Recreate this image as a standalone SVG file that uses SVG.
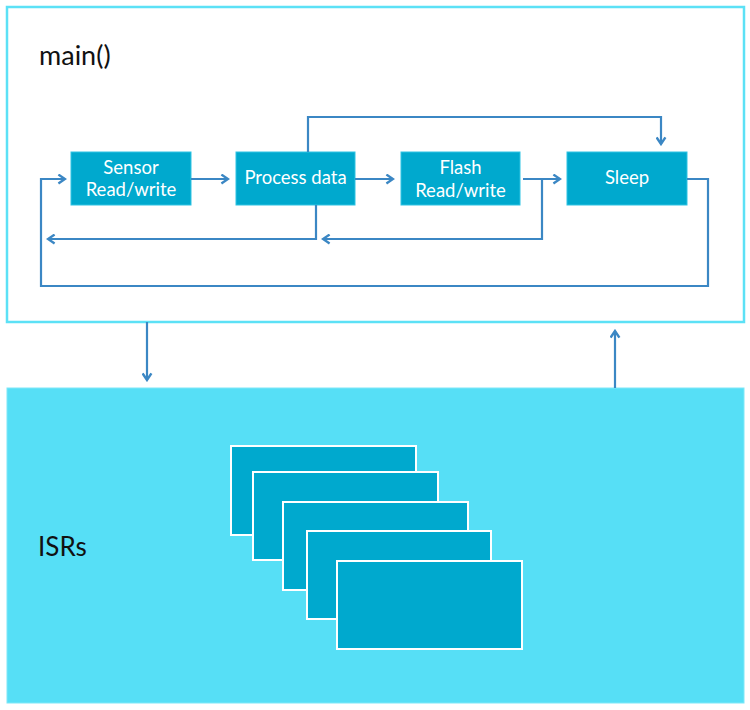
<svg xmlns="http://www.w3.org/2000/svg" width="750" height="710" viewBox="0 0 750 710">
<style>
.box{fill:#00a9ce;stroke:#2ec3e3;stroke-width:1}
.isr{fill:#00a9ce;stroke:#ffffff;stroke-width:2}
.lbl{font-family:Lato,"Liberation Sans",sans-serif;font-size:18.5px;fill:#ffffff;text-anchor:middle}
.title{font-family:Lato,"Liberation Sans",sans-serif;fill:#111111}
.conn{fill:none;stroke:#3b87c4;stroke-width:2.2}
</style>
<defs>
<marker id="arr" viewBox="0 0 10 10" refX="8" refY="5" markerWidth="11" markerHeight="11" markerUnits="userSpaceOnUse" orient="auto">
<path d="M2,1 L8,5 L2,9" fill="none" stroke="#3b87c4" stroke-width="2.2"/>
</marker>
</defs>
<rect width="750" height="710" fill="#ffffff"/>
<g id="main">
<rect x="7" y="7" width="737" height="315" fill="#ffffff" stroke="#5ce1f6" stroke-width="2.5"/>
<text class="title" x="39" y="65" font-size="27">main()</text>
</g>
<g id="isrs">
<rect x="7" y="388" width="737" height="315" fill="#56dff6" stroke="#7ee8f8" stroke-width="1"/>
<text class="title" x="38" y="556" font-size="26">ISRs</text>
<rect class="isr" x="231" y="446" width="185" height="89"/>
<rect class="isr" x="253" y="472" width="185" height="88"/>
<rect class="isr" x="283" y="502" width="185" height="88"/>
<rect class="isr" x="307" y="531" width="184" height="88"/>
<rect class="isr" x="337" y="561" width="185" height="88"/>
</g>
<g id="sensor">
<rect class="box" x="71" y="152" width="120" height="53"/>
<text class="lbl" x="131" y="173.5">Sensor</text>
<text class="lbl" x="131" y="196">Read/write</text>
</g>
<g id="process">
<rect class="box" x="236" y="152" width="119" height="53"/>
<text class="lbl" x="295.5" y="184">Process data</text>
</g>
<g id="flash">
<rect class="box" x="401" y="152" width="119" height="53"/>
<text class="lbl" x="460.5" y="174">Flash</text>
<text class="lbl" x="460.5" y="196.5">Read/write</text>
</g>
<g id="sleep">
<rect class="box" x="567" y="152" width="120" height="53"/>
<text class="lbl" x="627" y="184">Sleep</text>
</g>
<g id="connectors">
<path class="conn" d="M191,179 H228" marker-end="url(#arr)"/>
<path class="conn" d="M355,179 H393" marker-end="url(#arr)"/>
<path class="conn" d="M523,179 H560" marker-end="url(#arr)"/>
<path class="conn" d="M308,152 V117 H661 V144" marker-end="url(#arr)"/>
<path class="conn" d="M316,205 V239 H48" marker-end="url(#arr)"/>
<path class="conn" d="M542,179 V239 H323" marker-end="url(#arr)"/>
<path class="conn" d="M687,179 H708 V286 H41 V179 H65" marker-end="url(#arr)"/>
<path class="conn" d="M147,322 V380" marker-end="url(#arr)"/>
<path class="conn" d="M615,388 V331" marker-end="url(#arr)"/>
</g>
</svg>
